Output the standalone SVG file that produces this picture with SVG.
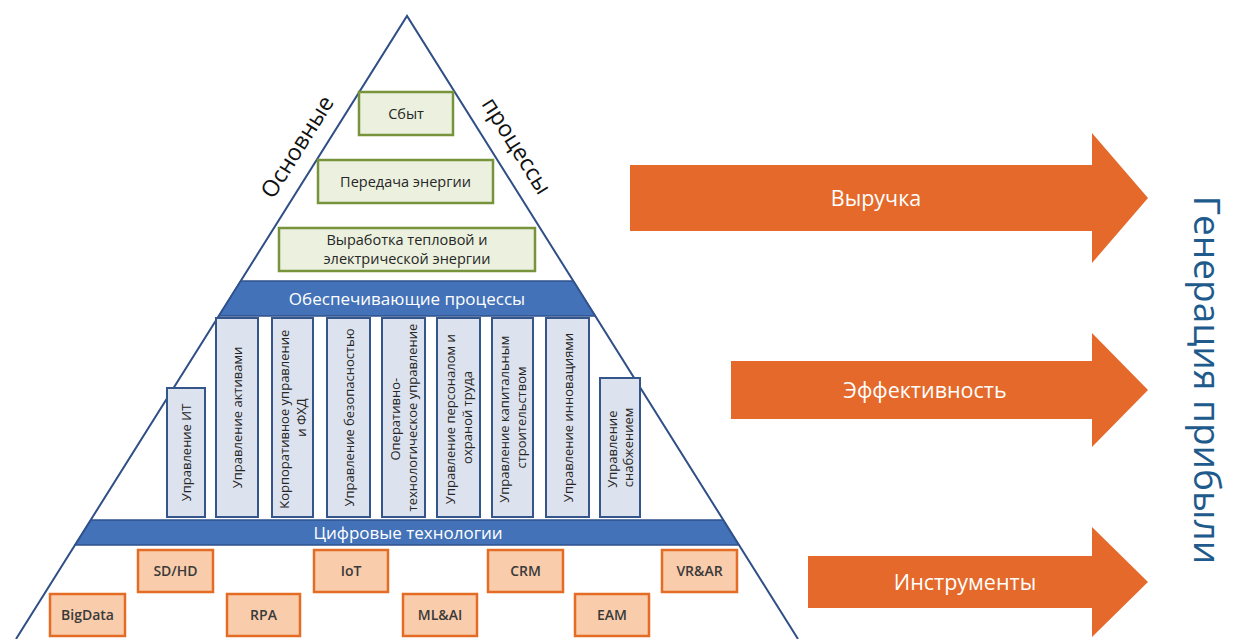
<svg xmlns="http://www.w3.org/2000/svg" width="1236" height="639" viewBox="0 0 1236 639">
  <style>
    text { font-family: "Open Sans", "Noto Sans", "DejaVu Sans", sans-serif; }
    .green { fill: #EBF1DE; stroke: #77933C; stroke-width: 2.5; }
    .gtxt { font-size: 14.5px; fill: #262626; text-anchor: middle; }
    .band { fill: #4372B8; stroke: #2F528F; stroke-width: 1.5; }
    .btxt { font-size: 17px; fill: #FFFFFF; text-anchor: middle; }
    .col { fill: #DDE3EE; stroke: #35568A; stroke-width: 2; }
    .ctxt { font-size: 13px; fill: #262626; text-anchor: middle; }
    .orange { fill: #F9CCAB; stroke: #E46C24; stroke-width: 2.5; }
    .otxt { font-size: 14px; font-weight: 600; fill: #3A3A3A; text-anchor: middle; }
    .arrow { fill: #E4692A; }
    .atxt { font-size: 21.5px; fill: #FFFFFF; text-anchor: middle; }
    .side { font-size: 23px; fill: #111111; text-anchor: middle; }
  </style>

  <g id="pyramid">
    <polygon points="16,639 407,16 798,639" fill="#FFFFFF"/>
    <polyline points="16,639 407,16 798,639" fill="none" stroke="#2F4F86" stroke-width="2"/>
  </g>

  <g id="side-labels">
    <text class="side" transform="translate(304,151) rotate(-57.9)">Основные</text>
    <text class="side" transform="translate(510,150) rotate(57.9)">процессы</text>
  </g>

  <g id="node-sbyt">
    <rect class="green" x="359" y="92" width="94" height="43"/>
    <text class="gtxt" x="406" y="119">Сбыт</text>
  </g>
  <g id="node-peredacha">
    <rect class="green" x="318" y="160" width="175" height="43"/>
    <text class="gtxt" x="405.5" y="187">Передача энергии</text>
  </g>
  <g id="node-vyrabotka">
    <rect class="green" x="279" y="228" width="256" height="43"/>
    <text class="gtxt" x="407" y="245">Выработка тепловой и</text>
    <text class="gtxt" x="407" y="264">электрической энергии</text>
  </g>

  <g id="band-support">
    <polygon class="band" points="240.8,281 573.2,281 595.1,316 218.9,316"/>
    <text class="btxt" x="407" y="305">Обеспечивающие процессы</text>
  </g>

  <g id="col-it">
    <rect class="col" x="167" y="388" width="38" height="129"/>
    <text class="ctxt" transform="translate(186,452.5) rotate(-90)" y="5">Управление ИТ</text>
  </g>
  <g id="col-assets">
    <rect class="col" x="216" y="318" width="42" height="199"/>
    <text class="ctxt" transform="translate(237,417.5) rotate(-90)" y="5">Управление активами</text>
  </g>
  <g id="col-corp">
    <rect class="col" x="272" y="318" width="41" height="199"/>
    <text class="ctxt" transform="translate(292.5,417.5) rotate(-90)">
      <tspan x="0" y="-3.5">Корпоративное управление</tspan>
      <tspan x="0" y="13">и ФХД</tspan>
    </text>
  </g>
  <g id="col-security">
    <rect class="col" x="327" y="318" width="43" height="199"/>
    <text class="ctxt" transform="translate(348.5,417.5) rotate(-90)" y="5">Управление безопасностью</text>
  </g>
  <g id="col-operative">
    <rect class="col" x="382" y="318" width="43" height="199"/>
    <text class="ctxt" transform="translate(403.5,417.5) rotate(-90)">
      <tspan x="0" y="-3.5">Оперативно-</tspan>
      <tspan x="0" y="13">технологическое управление</tspan>
    </text>
  </g>
  <g id="col-personnel">
    <rect class="col" x="437" y="318" width="43" height="199"/>
    <text class="ctxt" transform="translate(458.5,417.5) rotate(-90)">
      <tspan x="0" y="-3.5">Управление персоналом и</tspan>
      <tspan x="0" y="13">охраной труда</tspan>
    </text>
  </g>
  <g id="col-capital">
    <rect class="col" x="492" y="318" width="41" height="199"/>
    <text class="ctxt" transform="translate(512.5,417.5) rotate(-90)">
      <tspan x="0" y="-3.5">Управление капитальным</tspan>
      <tspan x="0" y="13">строительством</tspan>
    </text>
  </g>
  <g id="col-innovation">
    <rect class="col" x="546" y="318" width="43" height="199"/>
    <text class="ctxt" transform="translate(567.5,417.5) rotate(-90)" y="5">Управление инновациями</text>
  </g>
  <g id="col-supply">
    <rect class="col" x="600" y="378" width="40" height="139"/>
    <text class="ctxt" transform="translate(620,447.5) rotate(-90)">
      <tspan x="0" y="-3.5">Управление</tspan>
      <tspan x="0" y="13">снабжением</tspan>
    </text>
  </g>

  <g id="band-digital">
    <polygon class="band" points="91,520 723,520 738.7,545 75.3,545"/>
    <text class="btxt" x="408" y="539">Цифровые технологии</text>
  </g>

  <g id="tech-sdhd">
    <rect class="orange" x="138" y="550" width="75" height="42"/>
    <text class="otxt" x="175.5" y="576">SD/HD</text>
  </g>
  <g id="tech-iot">
    <rect class="orange" x="314" y="550" width="74" height="42"/>
    <text class="otxt" x="351" y="576">IoT</text>
  </g>
  <g id="tech-crm">
    <rect class="orange" x="488" y="550" width="75" height="42"/>
    <text class="otxt" x="525.5" y="576">CRM</text>
  </g>
  <g id="tech-vrar">
    <rect class="orange" x="662" y="550" width="75" height="42"/>
    <text class="otxt" x="699.5" y="576">VR&amp;AR</text>
  </g>
  <g id="tech-bigdata">
    <rect class="orange" x="50" y="594" width="75" height="42"/>
    <text class="otxt" x="87.5" y="620">BigData</text>
  </g>
  <g id="tech-rpa">
    <rect class="orange" x="227" y="594" width="73" height="42"/>
    <text class="otxt" x="263.5" y="620">RPA</text>
  </g>
  <g id="tech-mlai">
    <rect class="orange" x="403" y="594" width="74" height="42"/>
    <text class="otxt" x="440" y="620">ML&amp;AI</text>
  </g>
  <g id="tech-eam">
    <rect class="orange" x="575" y="594" width="74" height="42"/>
    <text class="otxt" x="612" y="620">EAM</text>
  </g>

  <g id="connectors">
    <g id="arrow-revenue">
      <polygon class="arrow" points="630,165 1092,165 1092,133 1148,198 1092,263 1092,231 630,231"/>
      <text class="atxt" x="876" y="205.5">Выручка</text>
    </g>
    <g id="arrow-efficiency">
      <polygon class="arrow" points="731,361 1092,361 1092,333 1148,390 1092,447 1092,419 731,419"/>
      <text class="atxt" x="925" y="397.5">Эффективность</text>
    </g>
    <g id="arrow-tools">
      <polygon class="arrow" points="808,556 1092,556 1092,527 1148,582 1092,637 1092,608 808,608"/>
      <text class="atxt" x="965" y="589.5">Инструменты</text>
    </g>
  </g>

  <g id="profit-label">
    <text transform="translate(1194,380) rotate(90)" text-anchor="middle" font-size="37" fill="#1E5B8C">Генерация прибыли</text>
  </g>
</svg>
